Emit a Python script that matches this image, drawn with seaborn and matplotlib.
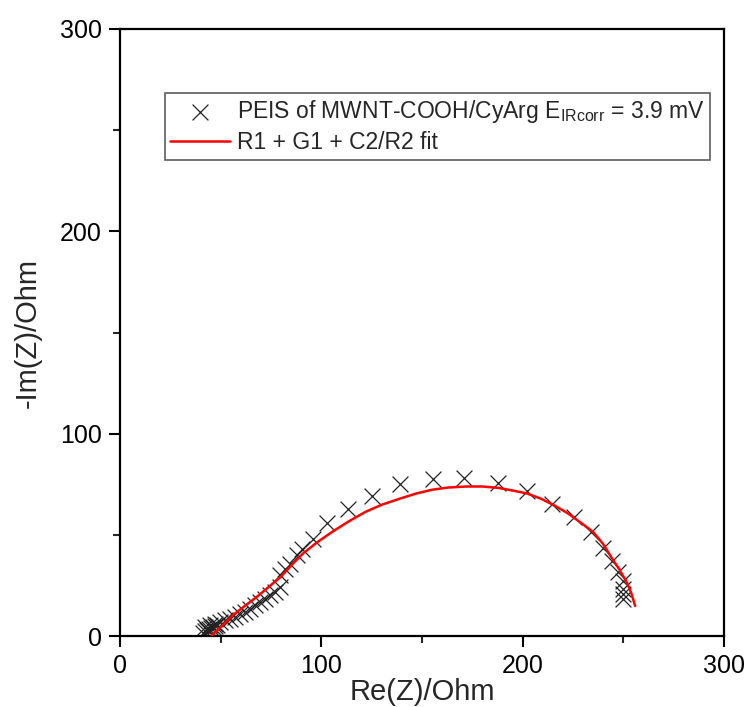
import numpy as np
import pandas as pd
import seaborn as sns
import matplotlib.pyplot as plt

re_meas = [41, 42, 43, 44, 45, 46, 47, 48, 42.2, 44.7, 47.2, 49.7, 52.2, 54.6, 57.1, 59.6, 62.1, 64.6,
           67.1, 69.5, 72.0, 74.5, 77.0, 79.5, 79.5, 82.0, 84.5, 87.9, 90.4, 95.9, 102.8, 113.3,
           125.2, 139.1, 155.5, 170.9, 187.8, 202.2, 214.6, 225.5, 234.0, 239.9, 244.4, 247.4,
           249.9, 249.9, 249.9, 249.9]
im_meas = [1.5, 2.5, 3.0, 3.5, 4.0, 4.5, 5.0, 5.5, 4.5, 5.5, 6.0, 6.9, 7.9, 8.4, 9.4, 10.9, 11.9, 13.4,
           15.4, 16.9, 18.3, 20.3, 21.8, 24.3, 30.2, 33.2, 35.7, 40.2, 43.1, 48.1, 56.0, 63.0,
           69.4, 75.4, 77.8, 78.3, 75.9, 71.9, 65.4, 59.0, 51.6, 43.6, 37.2, 31.7,
           27.3, 23.3, 20.8, 18.3]

# fitted curve
re_fit = [45.5, 50, 56, 62, 68, 74, 80, 86, 91, 98, 106, 114, 122, 130, 139, 147, 155, 163, 172,
          180, 188, 195, 202, 209, 215, 222, 229, 235, 240, 244, 248, 252, 254, 255.8]
im_fit = [0.5, 4.5, 10.4, 15, 19.5, 24.5, 29.5, 36, 41, 46.5, 52, 57, 61.5, 65, 68, 70.5, 72.4,
          73.5, 74, 74, 73.3, 72, 70.6, 68, 65, 61, 56, 51.5, 45.5, 39, 33, 26, 21, 15]

sns.set_style('ticks')
plt.rcParams['font.family'] = ['Liberation Sans', 'DejaVu Sans']
plt.rcParams['mathtext.fontset'] = 'custom'
plt.rcParams['mathtext.rm'] = 'Liberation Sans'
plt.rcParams['mathtext.it'] = 'Liberation Sans'

fig = plt.figure(figsize=(7.45, 7.07), dpi=100)
ax = fig.add_axes([0.161, 0.100, 0.811, 0.859])

meas = pd.DataFrame({'re': re_meas, 'im': im_meas})
fit = pd.DataFrame({'re': re_fit, 'im': im_fit})

sns.scatterplot(data=meas, x='re', y='im', marker='x', s=130, color='#222222', linewidth=0.9,
                ax=ax, label='PEIS of MWNT-COOH/CyArg E$_{\\mathregular{IRcorr}}$ = 3.9 mV',
                zorder=2)
sns.lineplot(data=fit, x='re', y='im', sort=False, color='#ff0000', lw=1.8, ax=ax,
             label='R1 + G1 + C2/R2 fit', zorder=3)

ax.set_xlim(0, 300)
ax.set_ylim(0, 300)
ax.set_xticks([0, 100, 200, 300])
ax.set_yticks([0, 100, 200, 300])
ax.set_xticks([50, 150, 250], minor=True)
ax.set_yticks([50, 150, 250], minor=True)
ax.tick_params(which='major', direction='out', length=8, width=1.5, labelsize=18, colors='black',
               pad=5)
ax.tick_params(which='minor', direction='out', length=5, width=1.5)
for s in ax.spines.values():
    s.set_linewidth(1.6)
    s.set_color('black')

ax.set_xlabel('Re(Z)/Ohm', fontsize=21, labelpad=0)
ax.set_ylabel('-Im(Z)/Ohm', fontsize=21, labelpad=13)

leg = ax.legend(loc='upper right', bbox_to_anchor=(0.977, 0.895), fontsize=16.5, frameon=True,
                fancybox=False, edgecolor='#333333', borderpad=0.25, handlelength=2.6,
                handletextpad=0.3, labelspacing=0.25, borderaxespad=0)
leg.get_frame().set_linewidth(1.2)

fig.savefig('out.png', dpi=100)
